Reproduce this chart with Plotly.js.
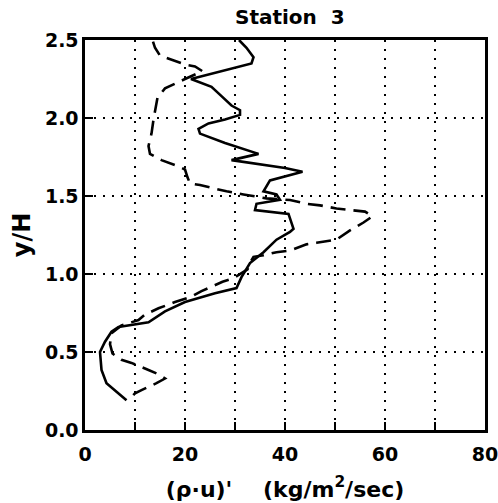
<!DOCTYPE html>
<html>
<head>
<meta charset="utf-8">
<script src="https://cdn.plot.ly/plotly-3.0.1.min.js"></script>
<style>html,body{margin:0;padding:0;background:#fff;}#chart{width:498px;height:503px;}</style>
</head>
<body>
<div id="chart"></div>
<script>
// Solid profile (rho*u)' vs y/H
var solidX = [30.8, 32.3, 33.7, 33.3, 21.2, 25.3, 27.3, 29.3, 31.0, 31.0, 28.0, 24.7, 22.7, 23.0, 28.0, 34.7, 29.3, 40.0, 43.5, 37.0, 35.7, 38.3, 39.0, 34.3, 34.0, 40.7, 41.7, 41.0, 38.3, 35.7, 33.0, 31.3, 30.3, 26.0, 20.0, 16.0, 12.7, 6.7, 5.3, 4.0, 3.0, 3.3, 4.3, 6.7, 8.3];
var solidY = [2.50, 2.45, 2.39, 2.35, 2.25, 2.20, 2.14, 2.08, 2.05, 2.02, 1.99, 1.965, 1.93, 1.90, 1.84, 1.77, 1.73, 1.68, 1.656, 1.60, 1.53, 1.51, 1.475, 1.45, 1.41, 1.385, 1.29, 1.27, 1.22, 1.14, 1.07, 0.98, 0.91, 0.876, 0.82, 0.76, 0.69, 0.66, 0.63, 0.566, 0.50, 0.385, 0.30, 0.235, 0.19];
// Dashed profile
var dashX = [13.6, 14.0, 15.0, 16.7, 20.3, 22.0, 23.5, 20.0, 16.0, 14.5, 14.0, 13.7, 13.3, 12.7, 13.0, 15.3, 18.7, 20.0, 20.5, 21.0, 23.0, 28.3, 31.7, 36.3, 41.0, 44.3, 47.0, 50.3, 53.0, 56.0, 57.5, 55.7, 53.0, 50.3, 46.3, 44.3, 41.0, 38.3, 35.7, 33.7, 33.0, 32.5, 29.5, 27.5, 23.3, 21.3, 18.0, 14.7, 12.0, 10.7, 7.3, 5.3, 5.0, 5.5, 7.3, 9.3, 12.7, 14.5, 16.0, 15.0, 14.3, 11.3, 10.0, 8.7];
var dashY = [2.49, 2.45, 2.40, 2.38, 2.34, 2.33, 2.30, 2.25, 2.19, 2.13, 2.05, 1.99, 1.90, 1.82, 1.77, 1.73, 1.69, 1.67, 1.62, 1.58, 1.57, 1.53, 1.51, 1.485, 1.474, 1.45, 1.44, 1.42, 1.41, 1.40, 1.37, 1.33, 1.28, 1.22, 1.20, 1.19, 1.15, 1.14, 1.12, 1.11, 1.07, 1.03, 0.97, 0.95, 0.89, 0.855, 0.82, 0.78, 0.74, 0.705, 0.67, 0.62, 0.55, 0.49, 0.45, 0.43, 0.385, 0.36, 0.33, 0.31, 0.30, 0.256, 0.235, 0.19];

var xTickVals = [0, 20, 40, 60, 80];
var xTickText = ['0', '20', '40', '60', '80'];
var xMinorVals = [10, 30, 50, 70];
var yTickVals = [0, 0.5, 1.0, 1.5, 2.0, 2.5];
var yTickText = ['0.0', '0.5', '1.0', '1.5', '2.0', '2.5'];

var FAM = 'DejaVu Sans';
var tickFont = {family: FAM, size: 19, color: '#000', weight: 'bold'};

var traces = [
  {x: solidX, y: solidY, type: 'scatter', mode: 'lines', line: {color: '#000', width: 2.6}, hoverinfo: 'skip'},
  {x: dashX, y: dashY, type: 'scatter', mode: 'lines', line: {color: '#000', width: 2.6, dash: '15px,8px'}, hoverinfo: 'skip'}
];

var gridStyle = {gridcolor: '#000', gridwidth: 2, griddash: '2px,7px'};

var layout = {
  width: 498, height: 503,
  margin: {l: 85, r: 13, t: 40, b: 73},
  paper_bgcolor: '#fff', plot_bgcolor: '#fff',
  showlegend: false,
  font: {family: FAM, color: '#000'},
  title: {text: 'Station  3', font: {family: FAM, size: 20, color: '#000', weight: 'bold'}, x: 0.582, xanchor: 'center', y: 0.98, yanchor: 'top'},
  xaxis: Object.assign({
    range: [0, 80], tickmode: 'array', tickvals: xTickVals, ticktext: xTickText,
    ticks: 'inside', ticklen: 8, tickwidth: 1.5, tickcolor: '#000',
    minor: Object.assign({tickmode: 'array', tickvals: xMinorVals, ticks: 'inside', ticklen: 8, tickwidth: 1.5, tickcolor: '#000', showgrid: true}, gridStyle),
    showline: true, linewidth: 2.6, linecolor: '#000', mirror: true,
    showgrid: true, zeroline: false, tickfont: tickFont,
    ticklabeloverflow: 'allow', ticklabelstandoff: 6,
    title: {text: "(ρ·u)'    (kg/m<sup>2</sup>/sec)", font: {family: FAM, size: 22, color: '#000', weight: 'bold'}, standoff: 17}
  }, gridStyle),
  yaxis: Object.assign({
    range: [0, 2.5], tickmode: 'array', tickvals: yTickVals, ticktext: yTickText,
    ticks: 'inside', ticklen: 8, tickwidth: 1.5, tickcolor: '#000',
    showline: true, linewidth: 2.6, linecolor: '#000', mirror: true,
    showgrid: true, zeroline: false, tickfont: tickFont,
    ticklabeloverflow: 'allow',
    title: {text: 'y/H', font: {family: FAM, size: 24, color: '#000', weight: 'bold'}, standoff: 8}
  }, gridStyle)
};

Plotly.newPlot('chart', traces, layout, {displayModeBar: false, staticPlot: true});
</script>
</body>
</html>
